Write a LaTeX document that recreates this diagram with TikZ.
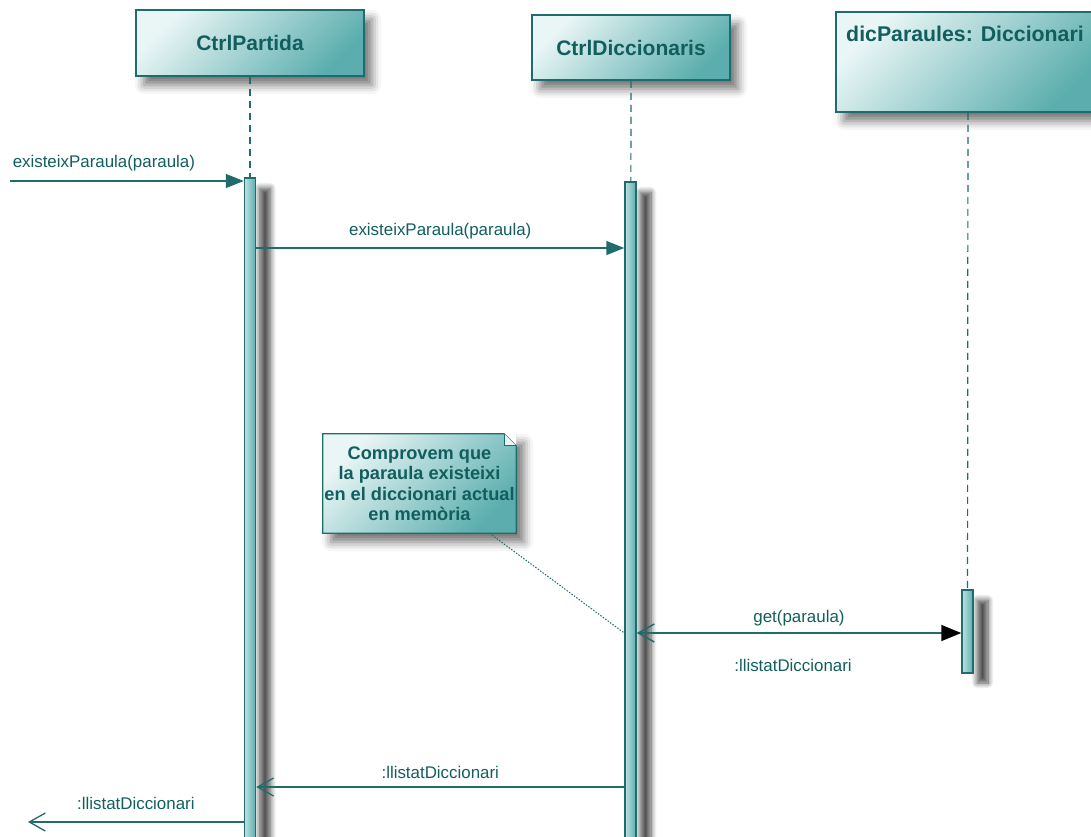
\documentclass[tikz,border=0pt]{standalone}
\usepackage{fontspec}
\setmainfont{Liberation Sans}
\usepackage{xcolor}
\usetikzlibrary{arrows.meta, positioning, shadows.blur}

\definecolor{umlline}{RGB}{31,108,108}
\definecolor{umltext}{RGB}{18,94,94}
\definecolor{umllight}{RGB}{234,246,246}
\definecolor{umldark}{RGB}{92,174,174}

\begin{document}
\begin{tikzpicture}[x=1pt, y=-1pt,
    obj/.style={rectangle, draw=umlline, line width=1.6pt, top color=umllight, bottom color=umldark, shading angle=45,
        text=umltext, font=\fontsize{21}{24}\selectfont\bfseries,
        blur shadow={shadow xshift=8pt, shadow yshift=-9pt, shadow blur radius=9pt, shadow opacity=55}},
    act/.style={rectangle, draw=umlline, line width=1.5pt, left color=umllight!70!umldark, right color=umldark,
        minimum width=11pt, inner sep=0pt,
        blur shadow={shadow xshift=15pt, shadow yshift=-10pt, shadow blur radius=5.5pt, shadow blur steps=12, shadow opacity=70}},
    notebox/.style={rectangle, top color=umllight, bottom color=umldark, shading angle=45, inner sep=1pt,
        minimum width=193pt, minimum height=99pt, align=center, text=umltext,
        font=\fontsize{18.2}{20.5}\selectfont\bfseries,
        blur shadow={shadow xshift=8pt, shadow yshift=-9pt, shadow blur radius=9pt, shadow opacity=55}},
    life/.style={umlline, line width=1.2pt, dash pattern=on 7pt off 5pt},
    msg/.style={umlline, line width=1.5pt, -{Triangle[length=18pt,width=14pt]}},
    ret/.style={umlline, line width=1.3pt, -{Straight Barb[length=16pt,width=18pt]}},
    lbl/.style={text=umltext, font=\fontsize{16.9}{19}\selectfont}
]
\useasboundingbox (0,0) rectangle (1091,836);

% objects
\node (ctrlP) [obj, minimum width=228pt, minimum height=66pt] at (250,43) {CtrlPartida};
\node (ctrlD) [obj, minimum width=198pt, minimum height=65pt] at (631,47.5) {CtrlDiccionaris};
\node (dicP) [obj, minimum width=264pt, minimum height=100pt] at (968,62) {};
\node (dicPtitle) [below=11pt of dicP.north, xshift=-3pt, text=umltext, font=\fontsize{21.3}{24}\selectfont\bfseries] {dicParaules: Diccionari};

% activations
\node (pBar) [act, minimum height=672pt] at (250,514) {};
\node (dBar) [act, minimum height=668pt] at (630.5,516) {};
\node (kBar) [act, minimum height=83pt] at (967.5,631.5) {};

% lifelines
\draw [life] (ctrlP) -- (pBar);
\draw [life] (ctrlD) -- (dBar);
\draw [life] (dicP) -- (kBar);

% note
\node (note) [notebox] at (419.5,483.5) {Comprovem que\\la paraula existeixi\\en el diccionari actual\\en memòria};
\fill [white] ([xshift=-12pt]note.north east) -- (note.north east) -- ([yshift=-12pt]note.north east) -- cycle;
\draw [umlline, line width=1.2pt] (note.south west) -- (note.north west) -- ([xshift=-12pt]note.north east)
    -- ([yshift=-12pt]note.north east) -- (note.south east) -- cycle;
\draw [umlline, line width=0.8pt, fill=umllight] ([xshift=-12pt]note.north east) -- ([xshift=-12pt,yshift=-12pt]note.north east)
    -- ([yshift=-12pt]note.north east);

% message levels
\coordinate (start) at (10,181);
\coordinate (caller) at (28,822);
\coordinate (m1) at (0,248);
\coordinate (m2) at (0,633);
\coordinate (m3) at (0,787);

% messages
\draw [msg] (start) -- (pBar.west |- start) node [lbl, pos=0, anchor=south west, inner sep=2pt, yshift=7pt] {existeixParaula(paraula)};
\draw [msg] (pBar.east |- m1) -- (dBar.west |- m1) node [lbl, midway, above=5pt] {existeixParaula(paraula)};
\draw [umlline, line width=1.5pt, {Straight Barb[length=16pt,width=18pt]}-{Triangle[length=20pt,width=16pt,color=black,fill=black]}]
    (dBar.east |- m2) -- (kBar.west |- m2)
    node [lbl, midway, above=3pt] {get(paraula)}
    node [lbl, midway, below=22pt, xshift=-6pt] {:llistatDiccionari};
\draw [ret] (dBar.west |- m3) -- (pBar.east |- m3) node [lbl, midway, above=4pt] {:llistatDiccionari};
\draw [ret] (pBar.west |- caller) -- (caller) node [lbl, midway, above=8pt] {:llistatDiccionari};

\draw [umlline, line width=1pt, dash pattern=on 1.5pt off 1.5pt] ([xshift=70pt]note.south) -- (dBar.west |- m2);
\end{tikzpicture}
\end{document}
